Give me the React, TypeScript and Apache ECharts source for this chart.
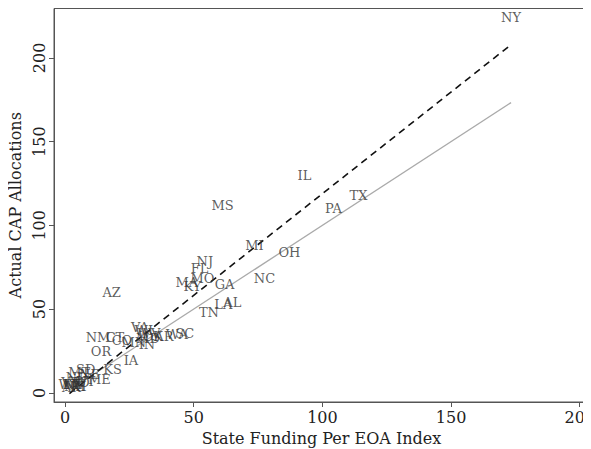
import React, { useEffect, useRef } from "react";
import * as echarts from "echarts";

const states = [
  "NY", "IL", "TX", "PA", "MS", "MI", "OH", "NC", "NJ", "FL",
  "MO", "MA", "KY", "GA", "AZ", "LA", "AL", "TN", "NM", "CT",
  "CO", "MN", "IN", "VA", "WI", "WV", "OK", "MD", "AR", "WA",
  "SC", "OR", "IA", "KS", "SD", "ME", "MT", "NE", "ND", "UT",
  "ID", "NV", "WY", "VT", "NH", "DE", "RI", "AK",
];
const fundingIndex = [
  173.3, 93.0, 114.0, 104.3, 61.2, 73.6, 87.2, 77.5, 54.3, 52.3,
  53.4, 47.3, 49.5, 62.0, 18.1, 61.5, 65.0, 55.9, 12.8, 19.4,
  22.1, 26.7, 31.8, 29.1, 30.6, 32.6, 34.1, 32.2, 38.4, 43.4,
  46.5, 14.0, 25.6, 18.5, 8.0, 13.3, 5.5, 9.5, 4.5, 8.0,
  6.5, 3.5, 1.7, 2.0, 4.0, 3.0, 5.0, 2.5,
];
const capAllocations = [
  224.0, 130.0, 118.0, 110.0, 112.0, 88.0, 84.0, 68.0, 78.5, 74.0,
  68.5, 66.0, 63.5, 64.5, 60.0, 52.5, 54.0, 48.0, 33.0, 33.0,
  31.0, 30.0, 28.8, 39.0, 37.2, 35.4, 33.6, 32.4, 33.6, 34.8,
  35.4, 24.8, 19.2, 13.8, 14.0, 7.8, 12.0, 10.8, 9.0, 7.0,
  6.0, 5.0, 4.8, 6.0, 3.5, 5.0, 4.0, 3.0,
];
const xTicks = [0, 50, 100, 150, 200];
const yTicks = [0, 50, 100, 150, 200];
const fitIntercept = -2.5;
const fitSlope = 1.214;

export default function App() {
  const ref = useRef<HTMLDivElement>(null);
  useEffect(() => {
    if (!ref.current) return;
    const chart = echarts.init(ref.current, null, { renderer: "svg" });
    const xMin = Math.min(...fundingIndex);
    const xMax = Math.max(...fundingIndex);
    const serif = "DejaVu Serif";
    const points = states.map((s, i) => ({ name: s, value: [fundingIndex[i], capAllocations[i]] }));
    chart.setOption({
      animation: false,
      grid: {
        left: 46, right: 2, top: 0.5, bottom: 47,
        outerBoundsMode: "none",
        containLabel: false,
        show: true, borderColor: "#555", borderWidth: 1, backgroundColor: "#fff",
      },
      xAxis: {
        type: "value", min: -4.3, max: 203.6,
        name: "State Funding Per EOA Index", nameLocation: "middle", nameGap: 28,
        nameTextStyle: { fontFamily: serif, fontSize: 16, color: "#222" },
        splitLine: { show: false },
        axisLine: { show: true, onZero: false, lineStyle: { color: "#555" } },
        axisTick: { show: true, length: 5, customValues: xTicks, lineStyle: { color: "#555" } },
        axisLabel: { customValues: xTicks, fontFamily: serif, fontSize: 16, color: "#222", margin: 7 },
      },
      yAxis: {
        type: "value", min: -5.5, max: 229.5,
        name: "Actual CAP Allocations", nameLocation: "middle", nameGap: 25,
        nameTextStyle: { fontFamily: serif, fontSize: 16, color: "#222" },
        splitLine: { show: false },
        axisLine: { show: true, onZero: false, lineStyle: { color: "#555" } },
        axisTick: { show: true, length: 5, customValues: yTicks, lineStyle: { color: "#555" } },
        axisLabel: { customValues: yTicks, rotate: 90, fontFamily: serif, fontSize: 16, color: "#222", margin: 7 },
      },
      series: [
        {
          type: "line",
          data: [[xMin, xMin], [xMax, xMax]],
          symbol: "none",
          lineStyle: { color: "#aaa", width: 1.3, type: "solid" },
          z: 1,
        },
        {
          type: "line",
          data: [[xMin, fitIntercept + fitSlope * xMin], [xMax, fitIntercept + fitSlope * xMax]],
          symbol: "none",
          lineStyle: { color: "#111", width: 1.6, type: [7, 5] },
          z: 2,
        },
        {
          type: "scatter",
          data: points,
          symbol: "circle",
          symbolSize: 1,
          itemStyle: { color: "rgba(0,0,0,0)" },
          label: {
            show: true, position: "inside", formatter: "{b}",
            fontFamily: serif, fontSize: 13, color: "#333",
          },
          emphasis: { disabled: true },
          z: 3,
        },
      ],
    });
    return () => chart.dispose();
  }, []);
  return <div ref={ref} style={{ width: 583, height: 441 }} />;
}
